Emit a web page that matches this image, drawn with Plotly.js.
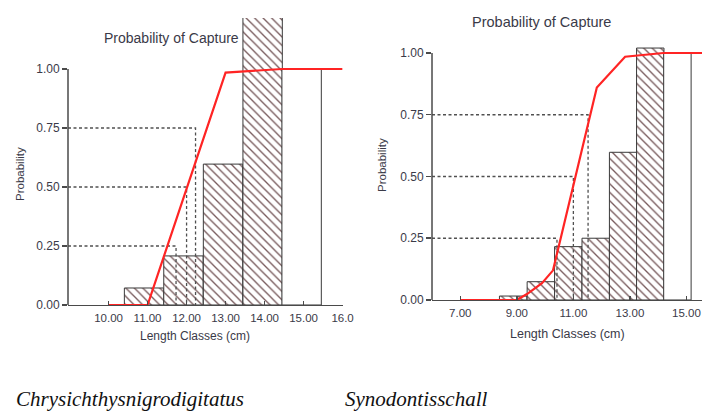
<!DOCTYPE html>
<html>
<head>
<meta charset="utf-8">
<script src="https://cdn.plot.ly/plotly-3.0.1.min.js"></script>
<style>html,body{margin:0;padding:0;background:#fff;}#chart{width:702px;height:414px;}</style>
</head>
<body>
<div id="chart"></div>
<script>
// ---- Left panel: Chrysichthys nigrodigitatus ----
const lenClassesL = [10.91, 11.92, 12.935, 13.95, 14.95];
const captureL = [0.072, 0.208, 0.597, 1.30, 1.0];
const hatchedL = [true, true, true, true, false];
const curveXL = [10.0, 11.0, 13.0, 13.45, 14.45, 16.0];
const curveYL = [0, 0, 0.985, 0.99, 1.0, 1.0];
const pctLevelsL = [0.25, 0.50, 0.75];
const pctLengthsL = [11.73, 12.0, 12.23];
const xTickValsL = [10, 11, 12, 13, 14, 15, 16];
const xTickTextL = ["10.00", "11.00", "12.00", "13.00", "14.00", "15.00", "16.0"];

// ---- Right panel: Synodontis schall ----
const lenClassesR = [8.87, 9.85, 10.82, 11.79, 12.76, 13.72, 14.68];
const captureR = [0.016, 0.074, 0.216, 0.25, 0.598, 1.02, 1.0];
const hatchedR = [true, true, true, true, true, true, false];
const curveXR = [7.0, 9.0, 9.36, 9.89, 10.28, 11.83, 12.83, 14.18, 15.55];
const curveYR = [0, 0, 0.024, 0.068, 0.12, 0.86, 0.985, 1.0, 1.0];
const pctLevelsR = [0.25, 0.50, 0.75];
const pctLengthsR = [10.42, 11.0, 11.52];
const xTickValsR = [7, 9, 11, 13, 15];
const xTickTextR = ["7.00", "9.00", "11.00", "13.00", "15.00"];

const yTickVals = [0, 0.25, 0.5, 0.75, 1.0];
const yTickText = ["0.00", "0.25", "0.50", "0.75", "1.00"];

const titleText = "Probability of Capture";
const xTitleText = "Length Classes (cm)";
const yTitleText = "Probability";
const speciesL = "Chrysichthysnigrodigitatus";
const speciesR = "Synodontisschall";

// ---- styles ----
const xRangeL = [8.96, 16.0];
const yRangeL = [0, 1.216];
const xRangeR = [6.0, 15.55];
const yRangeR = [0, 1.0526];
const axisCol = '#4a4a4a';
const textCol = '#3a3a48';
const hatchCol = '#76585a';
const redCol = '#ff2424';

function barTrace(x, y, hatched, xa, ya, w) {
  return {
    type: 'bar', x: x, y: y, xaxis: xa, yaxis: ya, width: w,
    marker: {
      color: '#ffffff',
      line: {color: '#3a3a3a', width: 1},
      pattern: {shape: hatched.map(h => h ? '\\' : ''), fgcolor: hatchCol, bgcolor: '#ffffff', size: 6, solidity: 0.22}
    },
    hoverinfo: 'skip', showlegend: false
  };
}
function dashTraces(levels, lengths, xmin, xa, ya) {
  return levels.map((p, i) => ({
    type: 'scatter', mode: 'lines', xaxis: xa, yaxis: ya,
    x: [xmin, lengths[i], lengths[i]], y: [p, p, 0],
    line: {color: '#505050', width: 1.3, dash: '3px,2.5px'},
    hoverinfo: 'skip', showlegend: false
  }));
}
function curveTrace(x, y, xa, ya) {
  return {type: 'scatter', mode: 'lines', x: x, y: y, xaxis: xa, yaxis: ya,
    line: {color: redCol, width: 2.2}, hoverinfo: 'skip', showlegend: false, cliponaxis: false};
}

const data = [
  barTrace(lenClassesL, captureL, hatchedL, 'x', 'y', 1.01),
  ...dashTraces(pctLevelsL, pctLengthsL, xRangeL[0], 'x', 'y'),
  curveTrace(curveXL, curveYL, 'x', 'y'),
  barTrace(lenClassesR, captureR, hatchedR, 'x2', 'y2', 0.97),
  ...dashTraces(pctLevelsR, pctLengthsR, xRangeR[0], 'x2', 'y2'),
  curveTrace(curveXR, curveYR, 'x2', 'y2')
];

const tickFont = {family: 'Liberation Sans, Arial, sans-serif', size: 11.5, color: textCol};
function xAxis(domain, range, tv, tt, anchor) {
  return {domain: domain, range: range, anchor: anchor, tickmode: 'array', tickvals: tv, ticktext: tt,
    ticks: 'inside', ticklen: 4, tickwidth: 1.5, tickcolor: axisCol, showline: true, linecolor: axisCol, linewidth: 1.5,
    showgrid: false, zeroline: false, tickfont: tickFont, ticklabelstandoff: 2, fixedrange: true};
}
function yAxis(domain, range, anchor) {
  return {domain: domain, range: range, anchor: anchor, tickmode: 'array', tickvals: yTickVals, ticktext: yTickText,
    ticks: 'outside', ticklen: 5, tickwidth: 1.5, tickcolor: axisCol, showline: false,
    showgrid: false, zeroline: false, tickfont: Object.assign({}, tickFont, {size: 12}), ticklabelstandoff: 0, fixedrange: true};
}
function ann(text, x, y, size, extra) {
  return Object.assign({text: text, x: x, y: y, xref: 'paper', yref: 'paper', showarrow: false,
    xanchor: 'center', yanchor: 'middle',
    font: {family: 'Liberation Sans, Arial, sans-serif', size: size, color: textCol}}, extra || {});
}

const layout = {
  width: 702, height: 414,
  margin: {l: 0, r: 0, t: 0, b: 0},
  paper_bgcolor: '#ffffff', plot_bgcolor: 'rgba(0,0,0,0)',
  barmode: 'overlay',
  showlegend: false,
  xaxis: xAxis([0.09687, 0.4880], xRangeL, xTickValsL, xTickTextL, 'y'),
  yaxis: yAxis([0.2633, 0.9565], yRangeL, 'x'),
  xaxis2: xAxis([0.6154, 1.0], xRangeR, xTickValsR, xTickTextR, 'y2'),
  yaxis2: yAxis([0.2754, 0.9034], yRangeR, 'x2'),
  shapes: [
    {type: 'line', xref: 'x domain', yref: 'y', x0: 0, x1: 0, y0: 0, y1: 1, line: {color: axisCol, width: 1.5}},
    {type: 'line', xref: 'x2 domain', yref: 'y2', x0: 0, x1: 0, y0: 0, y1: 1, line: {color: axisCol, width: 1.5}}
  ],
  annotations: [
    ann(titleText, 171 / 702, (414 - 38) / 414, 14),
    ann(titleText, 541 / 702, (414 - 22) / 414, 14.5),
    ann(xTitleText, 195 / 702, (414 - 336) / 414, 12),
    ann(xTitleText, 567 / 702, (414 - 334) / 414, 12.5),
    ann(yTitleText, 20 / 702, (414 - 174) / 414, 11.5, {textangle: -90}),
    ann(yTitleText, 382 / 702, (414 - 165) / 414, 11.5, {textangle: -90}),
    ann('<i>' + speciesL + '</i>', 130 / 702, (414 - 399) / 414, 21,
      {font: {family: 'Liberation Serif, Times New Roman, serif', size: 21, color: '#111111'}}),
    ann('<i>' + speciesR + '</i>', 416 / 702, (414 - 399) / 414, 21,
      {font: {family: 'Liberation Serif, Times New Roman, serif', size: 21, color: '#111111'}})
  ]
};

Plotly.newPlot('chart', data, layout, {staticPlot: true, displayModeBar: false});
</script>
</body>
</html>
